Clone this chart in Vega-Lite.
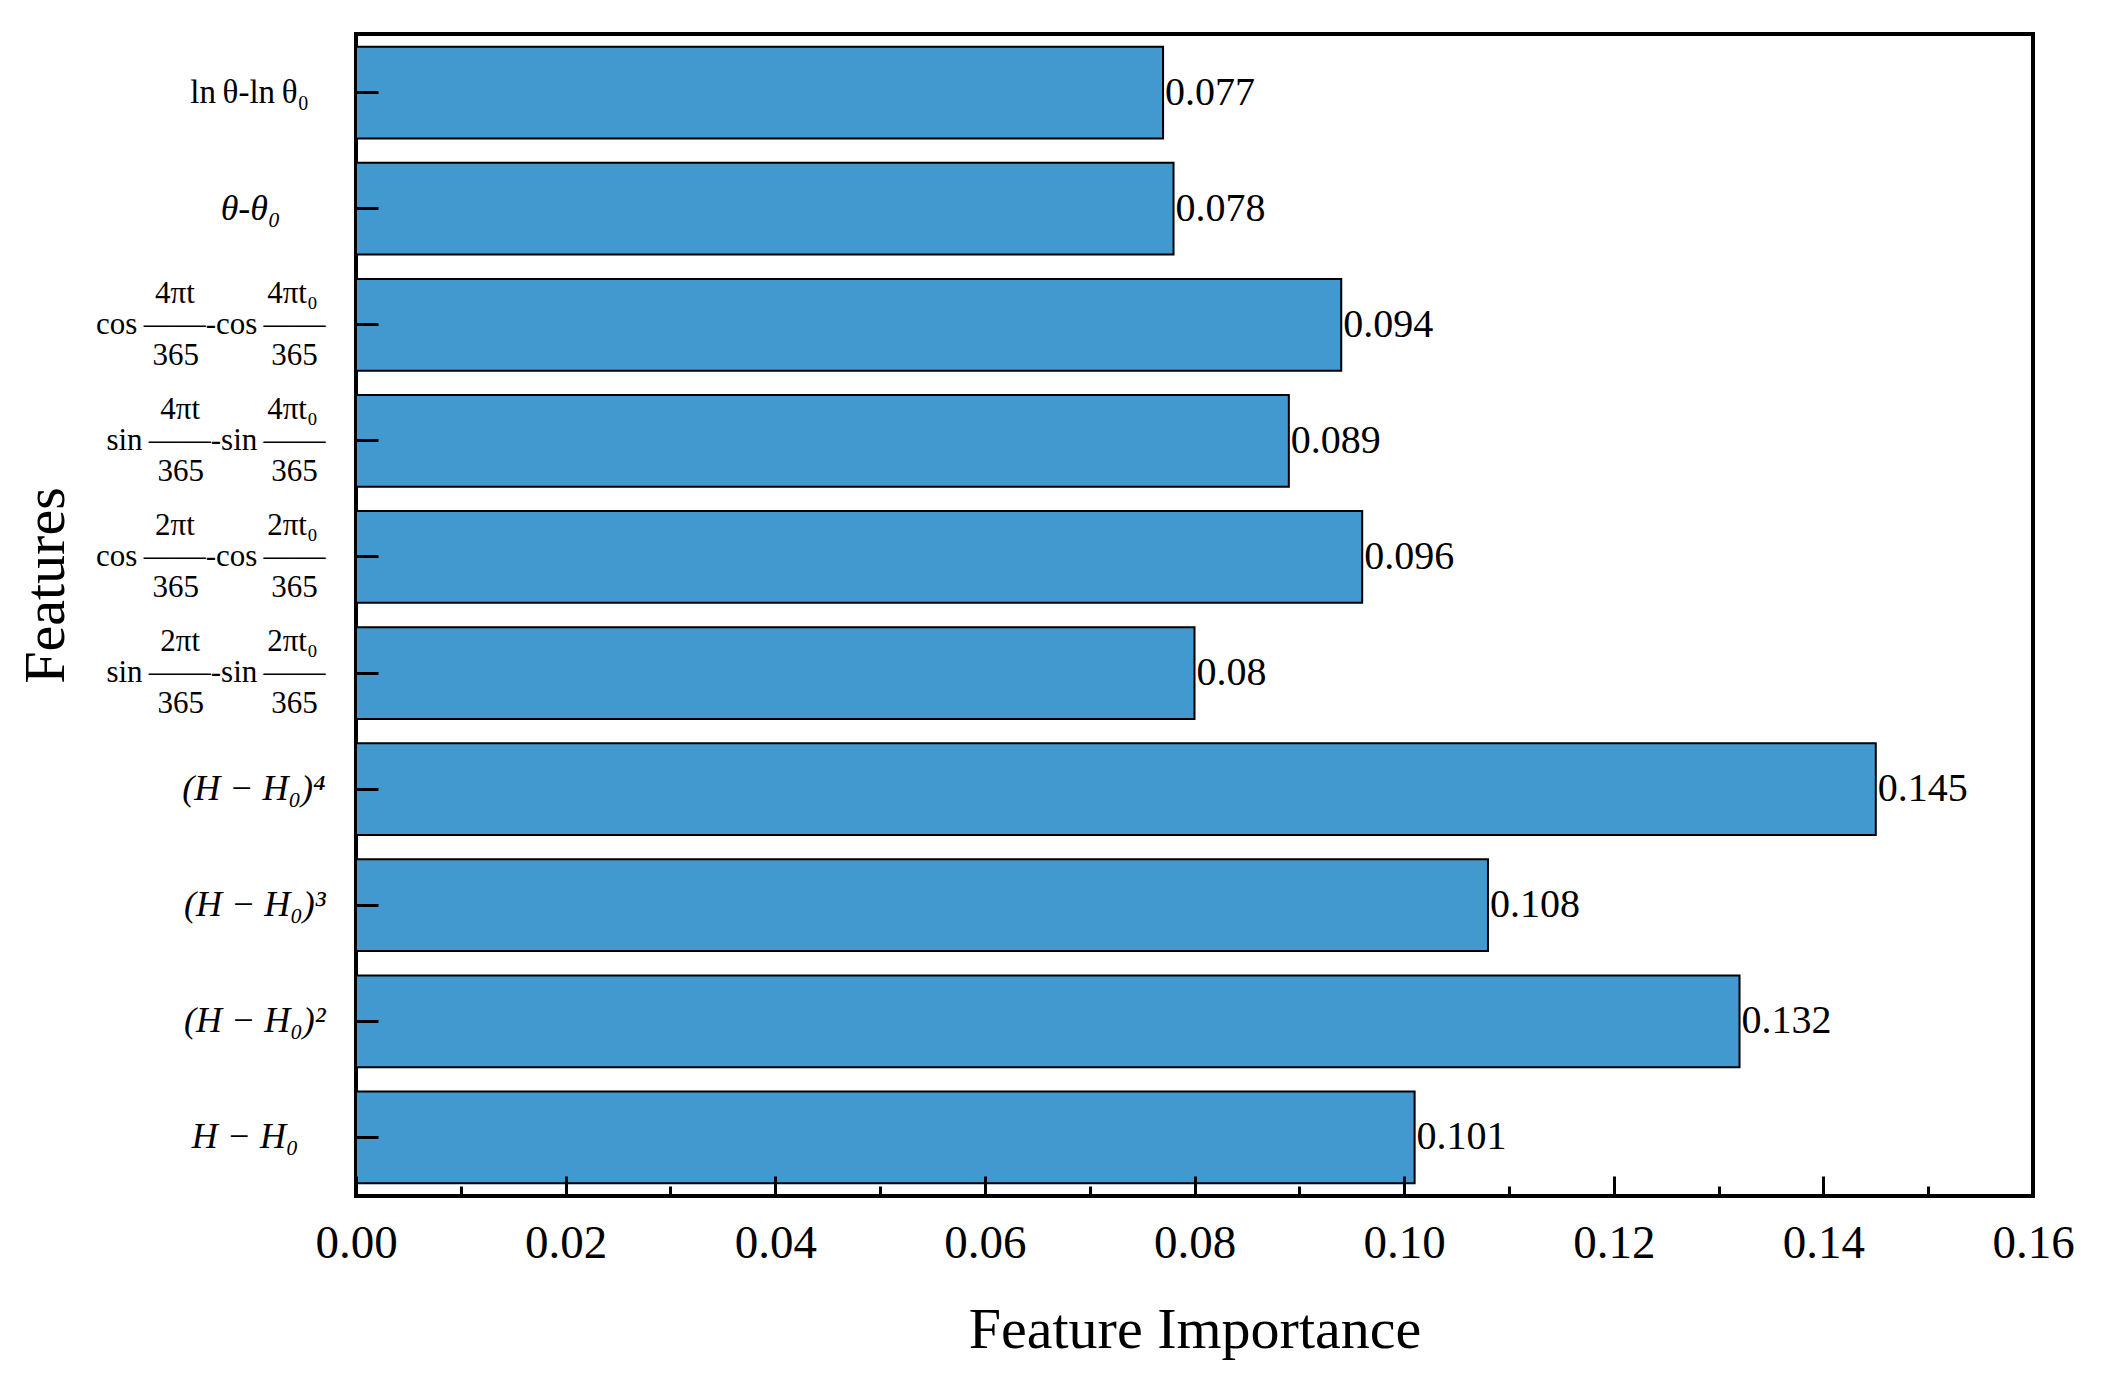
{
  "$schema": "https://vega.github.io/schema/vega-lite/v6.json",
  "width": 1677,
  "height": 1162,
  "autosize": {"type": "none"},
  "padding": {"left": 356, "top": 34, "right": 73, "bottom": 197},
  "background": "white",
  "config": {
    "font": "Liberation Serif",
    "view": {"stroke": "black", "strokeWidth": 4}
  },
  "data": {
    "values": [
      {"feature": "ln \u03b8-ln \u03b8\u2080", "importance": 0.077},
      {"feature": "\u03b8-\u03b8\u2080", "importance": 0.078},
      {"feature": "cos(4\u03c0t/365)-cos(4\u03c0t\u2080/365)", "importance": 0.094},
      {"feature": "sin(4\u03c0t/365)-sin(4\u03c0t\u2080/365)", "importance": 0.089},
      {"feature": "cos(2\u03c0t/365)-cos(2\u03c0t\u2080/365)", "importance": 0.096},
      {"feature": "sin(2\u03c0t/365)-sin(2\u03c0t\u2080/365)", "importance": 0.080},
      {"feature": "(H\u2212H\u2080)\u2074", "importance": 0.145},
      {"feature": "(H\u2212H\u2080)\u00b3", "importance": 0.108},
      {"feature": "(H\u2212H\u2080)\u00b2", "importance": 0.132},
      {"feature": "H\u2212H\u2080", "importance": 0.101}
    ]
  },
  "encoding": {
    "y": {
      "field": "feature",
      "type": "nominal",
      "sort": null,
      "scale": {"paddingInner": 0.21, "paddingOuter": 0.11},
      "axis": {
        "zindex": 1,
        "title": "Features",
        "titleFontSize": 58,
        "titleFontWeight": "normal",
        "titleColor": "black",
        "titleX": -293,
        "titleY": 551,
        "titleAngle": -90,
        "titleAlign": "center",
        "titleBaseline": "alphabetic",
        "labelFontSize": {"condition": [{"test": "indexof(datum.value, '365') >= 0", "value": 31}, {"test": "indexof(datum.value, 'ln') === 0", "value": 33}], "value": 36},
        "labelOffset": {"condition": {"test": "indexof(datum.value, '365') >= 0", "value": -31}, "value": 0},
        "labelFontStyle": {"condition": {"test": "indexof(datum.value, 'H') >= 0 || datum.value === '\u03b8-\u03b8\u2080'", "value": "italic"}, "value": "normal"},
        "labelColor": "black",
        "labelLineHeight": 31,
        "labelBaseline": "middle",
        "labelAlign": "right",
        "labelPadding": 53,
        "labelLimit": 0,
        "labelOverlap": false,
        "tickSize": -22,
        "tickWidth": 3,
        "tickColor": "black",
        "domain": false,
        "grid": false,
        "labelExpr": "datum.label === 'cos(4\u03c0t/365)-cos(4\u03c0t\u2080/365)' ? ['4\u03c0t\u2003\u2003\u2005\u200a4\u03c0t\u2080\u00a0\u2060', 'cos\u2009\u2014\u2014-cos\u2009\u2014\u2014', '365\u2003\u2003\u2005\u200a365\u00a0\u2060'] : datum.label === 'sin(4\u03c0t/365)-sin(4\u03c0t\u2080/365)' ? ['4\u03c0t\u2003\u2003\u20064\u03c0t\u2080\u00a0\u2060', 'sin\u2009\u2014\u2014-sin\u2009\u2014\u2014', '365\u2003\u2003\u2006365\u00a0\u2060'] : datum.label === 'cos(2\u03c0t/365)-cos(2\u03c0t\u2080/365)' ? ['2\u03c0t\u2003\u2003\u2005\u200a2\u03c0t\u2080\u00a0\u2060', 'cos\u2009\u2014\u2014-cos\u2009\u2014\u2014', '365\u2003\u2003\u2005\u200a365\u00a0\u2060'] : datum.label === 'sin(2\u03c0t/365)-sin(2\u03c0t\u2080/365)' ? ['2\u03c0t\u2003\u2003\u20062\u03c0t\u2080\u00a0\u2060', 'sin\u2009\u2014\u2014-sin\u2009\u2014\u2014', '365\u2003\u2003\u2006365\u00a0\u2060'] : datum.label === 'ln \u03b8-ln \u03b8\u2080' ? 'ln\u2009\u03b8-ln\u2009\u03b8\u2080\u00a0\u00a0\u2060' : datum.label === '\u03b8-\u03b8\u2080' ? '\u03b8-\u03b8\u2080\u00a0\u00a0\u00a0\u00a0\u00a0\u2060' : datum.label === 'H\u2212H\u2080' ? 'H \u2212 H\u2080\u00a0\u00a0\u00a0\u2060' : replace(datum.label, '\u2212', ' \u2212 ')"
      }
    },
    "x": {
      "field": "importance",
      "type": "quantitative",
      "scale": {"domain": [0, 0.16], "nice": false, "zero": true},
      "axis": {
        "zindex": 1,
        "title": "Feature Importance",
        "titleFontSize": 58,
        "titleFontWeight": "normal",
        "titleColor": "black",
        "titleX": 838.5,
        "titleY": 151,
        "titleAlign": "center",
        "titleBaseline": "alphabetic",
        "values": [0, 0.01, 0.02, 0.03, 0.04, 0.05, 0.06, 0.07, 0.08, 0.09, 0.1, 0.11, 0.12, 0.13, 0.14, 0.15, 0.16],
        "labelExpr": "round(datum.value*100) % 2 === 0 ? format(datum.value, '.2f') : ''",
        "labelFontSize": 47,
        "labelColor": "black",
        "labelBaseline": "alphabetic",
        "labelPadding": 81,
        "labelFlush": false,
        "labelOverlap": false,
        "tickSize": {"condition": {"test": "round(datum.value*100) % 2 === 0", "value": -20}, "value": -10},
        "tickWidth": 3,
        "tickColor": "black",
        "domain": false,
        "grid": false
      }
    }
  },
  "layer": [
    {"mark": {"type": "bar", "fill": "#4299cf", "stroke": "black", "strokeWidth": 2}},
    {
      "mark": {"type": "text", "align": "left", "baseline": "middle", "dx": 2, "fontSize": 40, "color": "black"},
      "encoding": {"text": {"field": "importance", "type": "quantitative", "format": "~g"}}
    }
  ]
}
